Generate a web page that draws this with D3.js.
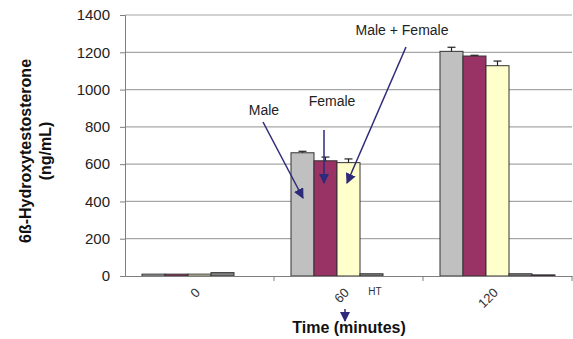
<!DOCTYPE html>
<html>
<head>
<meta charset="utf-8">
<script src="https://cdn.jsdelivr.net/npm/d3@7"></script>
<style>
  body { margin: 0; background: #fff; }
  svg { display: block; font-family: "Liberation Sans", Arial, sans-serif; }
</style>
</head>
<body>
<svg id="chart" width="573" height="339"></svg>
<script>
// ---- data ----
const categories = ["0", "60", "120"];
const seriesNames = ["Male", "Female", "Male + Female", "HT", "Control"];
const maleValues = [10, 661, 1205];
const maleErrors = [0, 8, 22];
const femaleValues = [10, 618, 1180];
const femaleErrors = [0, 20, 4];
const maleFemaleValues = [10, 608, 1128];
const maleFemaleErrors = [0, 20, 25];
const htValues = [18, 12, 12];
const controlValues = [0, 0, 6];
const yTicks = [0, 200, 400, 600, 800, 1000, 1200, 1400];

const seriesValues = [maleValues, femaleValues, maleFemaleValues, htValues, controlValues];
const seriesErrors = [maleErrors, femaleErrors, maleFemaleErrors, null, null];
const seriesColors = ["#c0c0c0", "#993366", "#ffffcc", "#808080", "#660066"];

const svg = d3.select("#chart");
const mLeft = 125, mRight = 572, mTop = 15, mBottom = 276;

const x = d3.scaleBand().domain(categories).range([mLeft, mRight]).padding(0);
const xs = d3.scaleBand().domain(seriesNames).range([0, x.bandwidth()]).paddingInner(0).paddingOuter(0.739);
const y = d3.scaleLinear().domain([0, 1400]).range([mBottom, mTop]);

// gridlines
svg.append("g").selectAll("line").data(yTicks.filter(d => d > 0)).join("line")
  .attr("x1", mLeft).attr("x2", mRight)
  .attr("y1", d => y(d)).attr("y2", d => y(d))
  .attr("stroke", "#a6a6a6").attr("stroke-width", 1.2);

// bars
const rows = [];
categories.forEach((c, ci) => {
  seriesNames.forEach((s, si) => {
    rows.push({c, s, si, v: seriesValues[si][ci], e: seriesErrors[si] ? seriesErrors[si][ci] : 0});
  });
});
svg.append("g").selectAll("rect").data(rows.filter(d => d.v > 0)).join("rect")
  .attr("x", d => x(d.c) + xs(d.s))
  .attr("y", d => y(d.v))
  .attr("width", xs.bandwidth())
  .attr("height", d => y(0) - y(d.v))
  .attr("fill", d => seriesColors[d.si])
  .attr("stroke", "#333")
  .attr("stroke-width", 1);

// error bars (plus only)
const eb = svg.append("g").attr("stroke", "#222").attr("stroke-width", 1.2);
rows.filter(d => d.e > 0).forEach(d => {
  const cx = x(d.c) + xs(d.s) + xs.bandwidth() / 2;
  eb.append("line").attr("x1", cx).attr("x2", cx).attr("y1", y(d.v)).attr("y2", y(d.v + d.e));
  eb.append("line").attr("x1", cx - 4).attr("x2", cx + 4).attr("y1", y(d.v + d.e)).attr("y2", y(d.v + d.e));
});

// y axis
const yAxis = svg.append("g").attr("transform", `translate(${mLeft},0)`)
  .call(d3.axisLeft(y).tickValues(yTicks).tickSize(5).tickPadding(10).tickFormat(d3.format("d")));
yAxis.select(".domain").attr("stroke", "#7f7f7f");
yAxis.selectAll(".tick line").attr("stroke", "#7f7f7f");
yAxis.selectAll("text").attr("font-size", 15).attr("fill", "#222")
  .attr("font-family", "'Liberation Sans', Arial, sans-serif");

// x axis
const xAxis = svg.append("g").attr("transform", `translate(0,${mBottom})`)
  .call(d3.axisBottom(x).tickSize(0).tickFormat(""));
xAxis.select(".domain").attr("stroke", "#7f7f7f");
svg.append("g").selectAll("line").data([categories[1], categories[2], null]).join("line")
  .attr("x1", (d, i) => i < 2 ? x(d) : mRight).attr("x2", (d, i) => i < 2 ? x(d) : mRight)
  .attr("y1", mBottom).attr("y2", mBottom + 5).attr("stroke", "#7f7f7f");
svg.append("g").selectAll("text").data(categories).join("text")
  .attr("transform", d => `translate(${x(d) + x.bandwidth() / 2 - 5},${mBottom + 11}) rotate(-45)`)
  .attr("text-anchor", "end").attr("dy", "0.7em")
  .attr("font-size", 13).attr("fill", "#333")
  .text(d => d);

// axis titles
const yTitle = svg.append("text").attr("transform", "translate(31,151) rotate(-90)")
  .attr("text-anchor", "middle").attr("font-weight", "bold").attr("font-size", 16).attr("fill", "#111");
yTitle.append("tspan").attr("x", 0).attr("dy", 0).text("6ß-Hydroxytestosterone");
yTitle.append("tspan").attr("x", 0).attr("dy", 20).text("(ng/mL)");

svg.append("text").attr("x", 349).attr("y", 333).attr("text-anchor", "middle")
  .attr("font-weight", "bold").attr("font-size", 16).attr("fill", "#111")
  .text("Time (minutes)");

// annotations
const arrowColor = "#2e2a7a";
svg.append("defs").append("marker").attr("id", "ah")
  .attr("viewBox", "0 0 10 10").attr("refX", 9).attr("refY", 5)
  .attr("markerWidth", 7).attr("markerHeight", 7).attr("orient", "auto")
  .append("path").attr("d", "M0,0 L10,5 L0,10 z").attr("fill", arrowColor);

const ann = svg.append("g").attr("font-size", 14).attr("fill", "#222");
ann.append("text").attr("x", 264).attr("y", 115).attr("text-anchor", "middle").text("Male");
ann.append("text").attr("x", 332).attr("y", 106).attr("text-anchor", "middle").text("Female");
ann.append("text").attr("x", 402).attr("y", 35).attr("text-anchor", "middle").text("Male + Female");
svg.append("text").attr("x", 375).attr("y", 295).attr("text-anchor", "middle")
  .attr("font-size", 10).attr("fill", "#333").text("HT");

const arrows = [
  [263, 122, 303, 198],
  [324, 130, 324, 183],
  [406, 47, 347, 183],
  [345, 309, 345, 321]
];
svg.append("g").selectAll("line").data(arrows).join("line")
  .attr("x1", d => d[0]).attr("y1", d => d[1]).attr("x2", d => d[2]).attr("y2", d => d[3])
  .attr("stroke", arrowColor).attr("stroke-width", 1.5).attr("marker-end", "url(#ah)");
</script>
</body>
</html>
